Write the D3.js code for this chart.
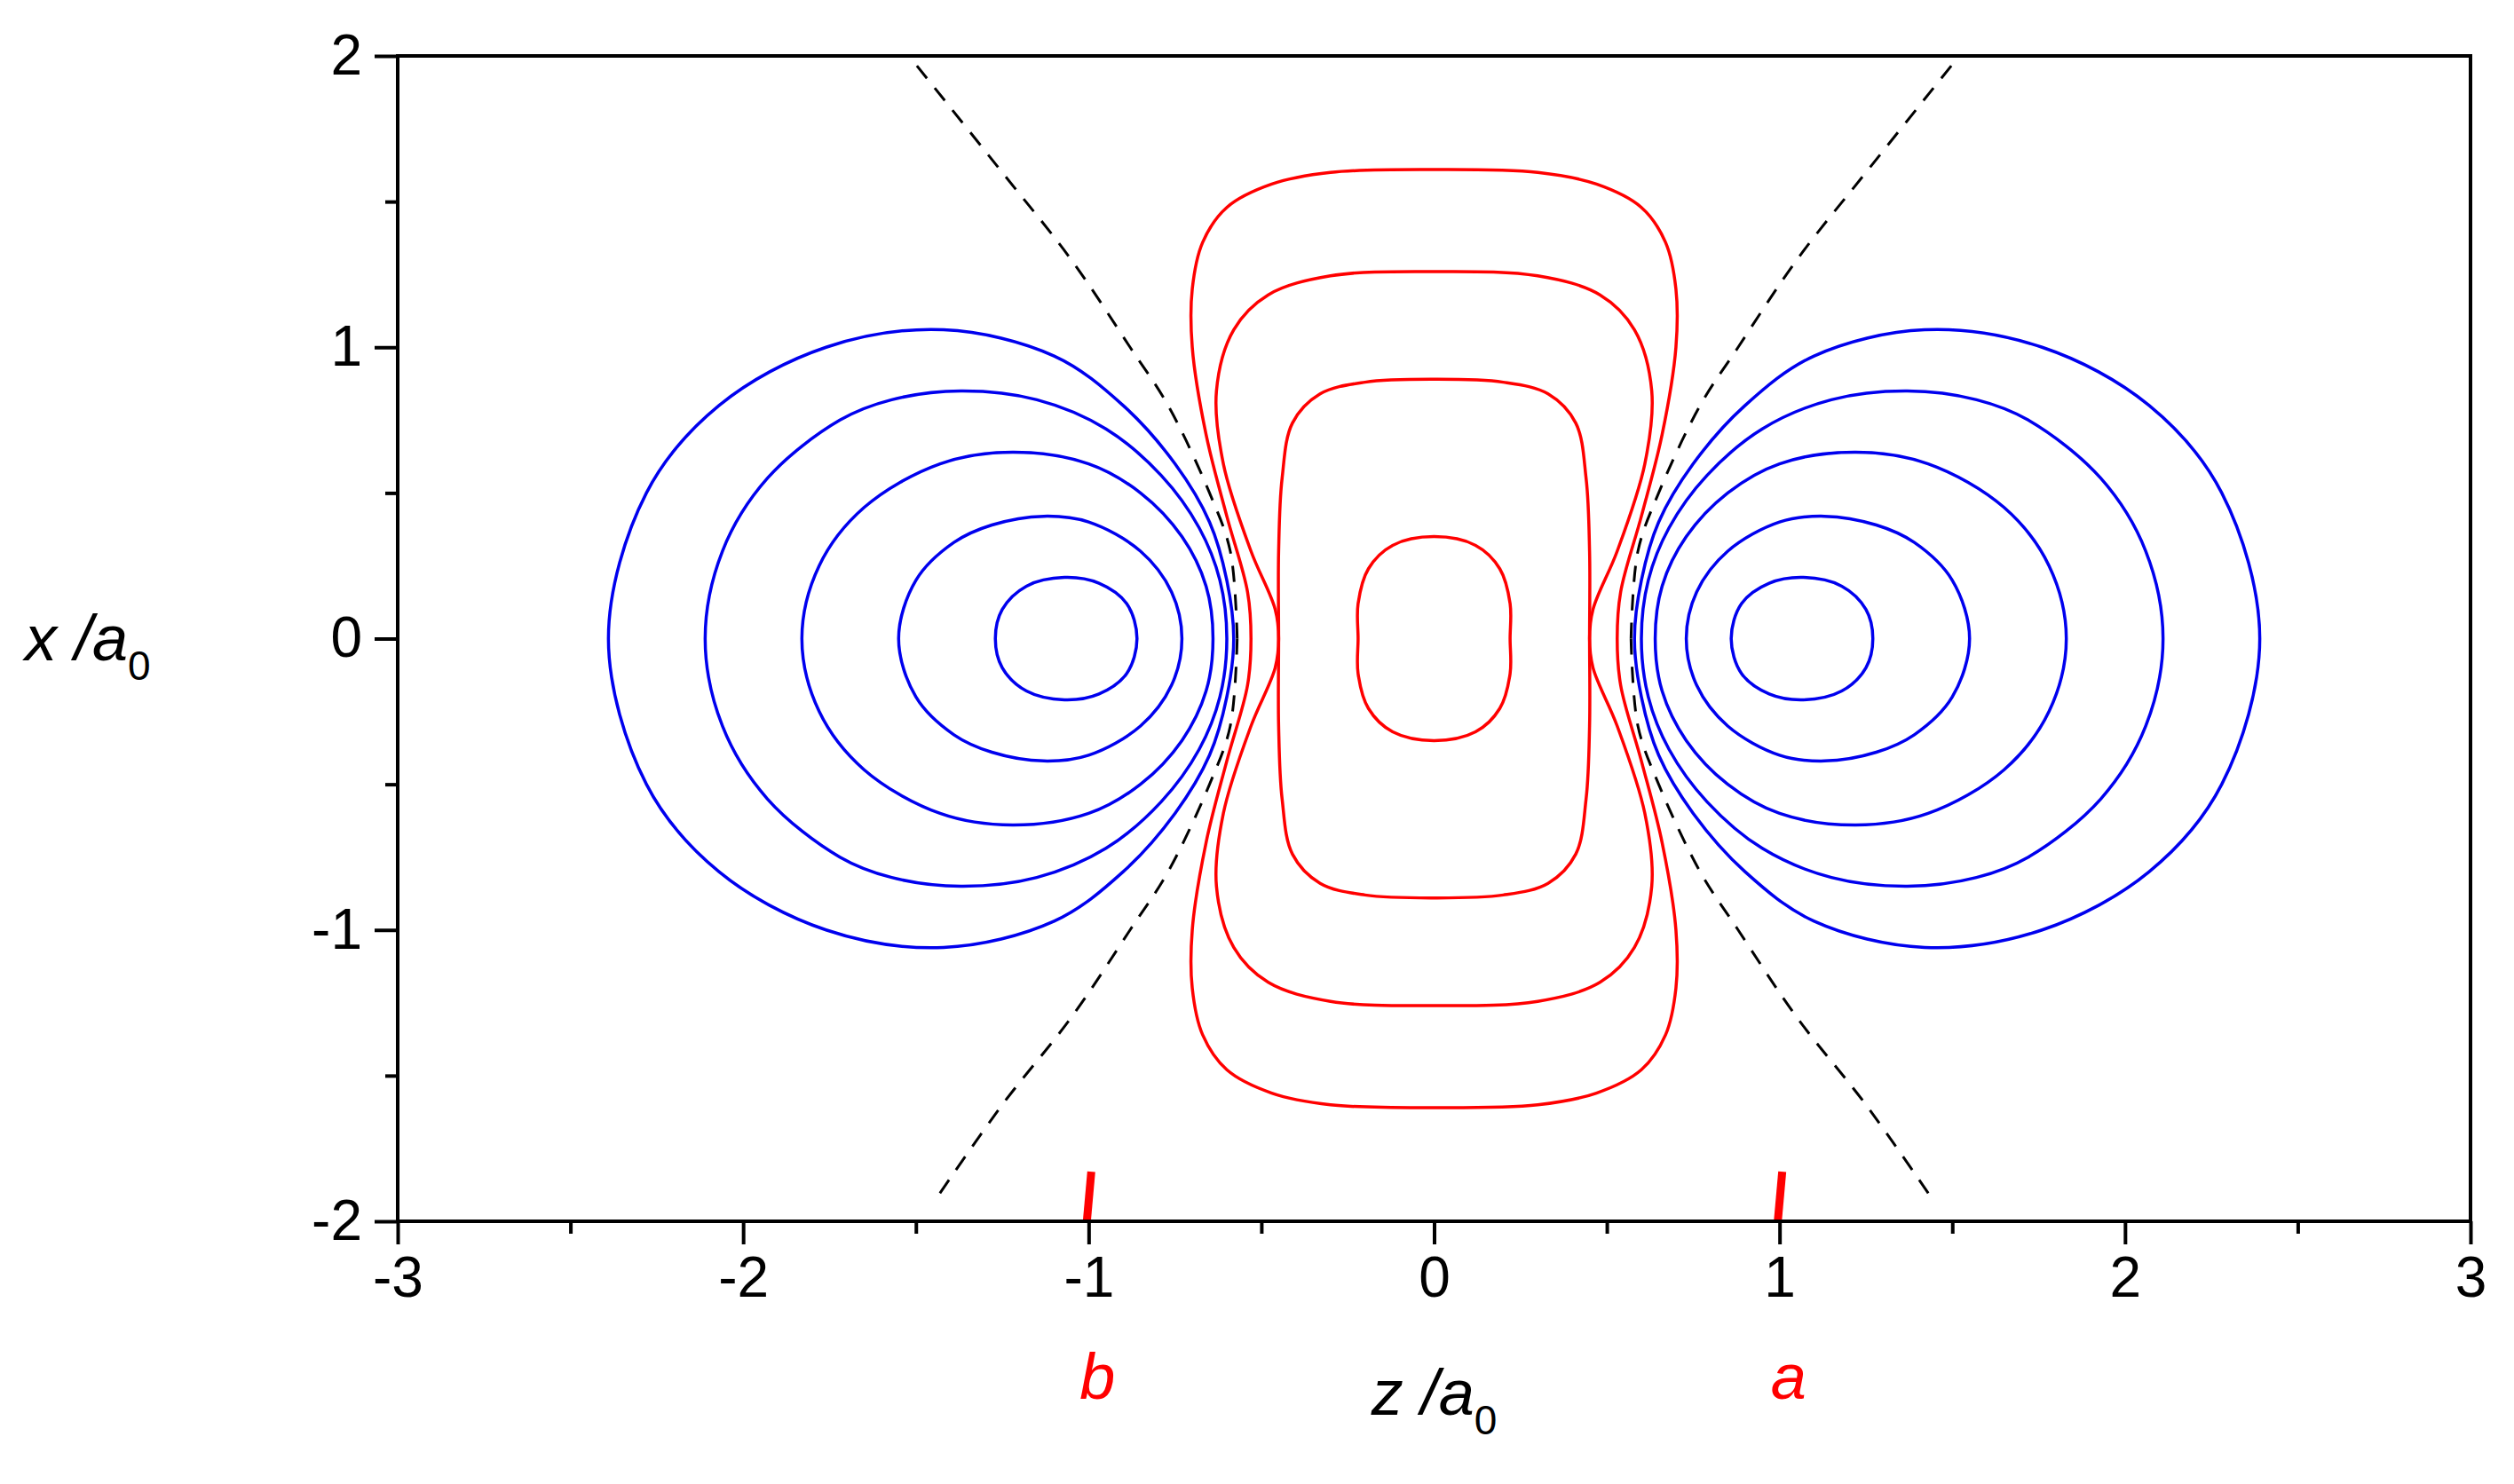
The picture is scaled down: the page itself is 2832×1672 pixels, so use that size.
<!DOCTYPE html>
<html><head><meta charset="utf-8">
<script src="https://cdn.jsdelivr.net/npm/d3@7"></script>
<style>body{margin:0;background:#fff}text{font-family:"Liberation Sans",Arial,sans-serif}</style>
</head><body><svg id="c" width="2832" height="1672"></svg>
<script>
// Quadrant points (z, x); mirrored for symmetry
const redContours = [
 [[0,0.35],[0.12,0.32],[0.19,0.24],[0.22,0.12],[0.22,0]],
 [[0,0.89],[0.2,0.88],[0.33,0.84],[0.41,0.74],[0.44,0.55],[0.45,0.3],[0.45,0]],
 [[0,1.26],[0.3,1.245],[0.48,1.18],[0.58,1.06],[0.63,0.85],[0.61,0.6],[0.53,0.3],[0.46,0.1],[0.45,0]],
 [[0,1.61],[0.3,1.60],[0.47,1.56],[0.6,1.48],[0.67,1.36],[0.70,1.2],[0.70,1.0],[0.66,0.7],[0.60,0.42],[0.54,0.16],[0.53,0]]
];
const blueContours = [
 [[0.86,0],[0.89,0.12],[0.97,0.19],[1.07,0.21],[1.18,0.18],[1.25,0.1],[1.27,0]],
 [[0.73,0],[0.76,0.16],[0.85,0.3],[1.0,0.4],[1.13,0.42],[1.28,0.39],[1.39,0.33],[1.50,0.2],[1.55,0]],
 [[0.64,0],[0.66,0.18],[0.73,0.35],[0.85,0.5],[1.0,0.6],[1.22,0.64],[1.43,0.6],[1.65,0.45],[1.78,0.25],[1.83,0]],
 [[0.60,0],[0.62,0.2],[0.68,0.38],[0.79,0.56],[0.95,0.72],[1.15,0.82],[1.37,0.85],[1.57,0.82],[1.72,0.75],[1.93,0.55],[2.06,0.3],[2.11,0]],
 [[0.58,0],[0.60,0.2],[0.65,0.4],[0.75,0.6],[0.9,0.8],[1.1,0.97],[1.42,1.06],[1.76,1.0],[2.07,0.8],[2.28,0.5],[2.39,0]]
];
const nodeTop = [[0.57,0],[0.59,0.3],[0.65,0.5],[0.77,0.8],[0.88,1.0],[1.05,1.3],[1.25,1.6],[1.52,2.0]];
const nodeBottom = [[0.57,0],[0.59,0.3],[0.65,0.5],[0.77,0.8],[0.88,1.0],[1.05,1.3],[1.25,1.6],[1.44,1.92]];
const xTicks = [-3,-2,-1,0,1,2,3];
const yTicks = [-2,-1,0,1,2];
const nuclei = [{z:-1,label:"b"},{z:1,label:"a"}];

const svg = d3.select("#c");
const L=448,R=2783,T=63,B=1376;
const xs = d3.scaleLinear().domain([-3,3]).range([L,R]);
const ys = d3.scaleLinear().domain([-2,2]).range([B,T]);
const closed = d3.line().x(d=>xs(d[0])).y(d=>ys(d[1])).curve(d3.curveCatmullRomClosed.alpha(0.5));
const open = d3.line().x(d=>xs(d[0])).y(d=>ys(d[1])).curve(d3.curveCatmullRom.alpha(0.5));

function fullRed(q){
  const a=q.slice();
  const b=q.slice().reverse().slice(1).map(d=>[d[0],-d[1]]);
  const c=q.slice(1).map(d=>[-d[0],-d[1]]);
  const e=q.slice().reverse().slice(1,-1).map(d=>[-d[0],d[1]]);
  return a.concat(b,c,e);
}
function fullBlue(h,s){
  const up=h.map(d=>[s*d[0],d[1]]);
  const dn=h.slice().reverse().slice(1,-1).map(d=>[s*d[0],-d[1]]);
  return up.concat(dn);
}
const g=svg.append("g");
redContours.forEach(q=>g.append("path").attr("d",closed(fullRed(q))).attr("fill","none").attr("stroke","#ff0000").attr("stroke-width",3.5));
blueContours.forEach(h=>[1,-1].forEach(s=>g.append("path").attr("d",closed(fullBlue(h,s))).attr("fill","none").attr("stroke","#0000ee").attr("stroke-width",3.5)));
[1,-1].forEach(s=>{
  g.append("path").attr("d",open(nodeTop.map(d=>[s*d[0],d[1]]))).attr("fill","none").attr("stroke","#000").attr("stroke-width",3).attr("stroke-dasharray","18,14");
  g.append("path").attr("d",open(nodeBottom.map(d=>[-s*d[0],-d[1]]))).attr("fill","none").attr("stroke","#000").attr("stroke-width",3).attr("stroke-dasharray","18,14");
});
nuclei.forEach(n=>{
  g.append("line").attr("x1",xs(n.z)-2).attr("y1",ys(-2)).attr("x2",xs(n.z)+3).attr("y2",ys(-1.83)).attr("stroke","#ff0000").attr("stroke-width",9);
  svg.append("text").attr("x",xs(n.z)+10).attr("y",B+200).attr("text-anchor","middle").attr("font-size",72).attr("font-style","italic").attr("fill","#ff0000").text(n.label);
});
svg.append("rect").attr("x",L).attr("y",T).attr("width",R-L).attr("height",B-T).attr("fill","none").attr("stroke","#000").attr("stroke-width",4);
const fmt=d=>String(d);
svg.append("g").attr("transform",`translate(0,${B})`).call(d3.axisBottom(xs).tickValues(xTicks).tickSize(26).tickPadding(14).tickFormat(fmt));
svg.append("g").attr("transform",`translate(0,${B})`).call(d3.axisBottom(xs).tickValues(d3.range(-2.5,3,1)).tickSize(14).tickFormat(""));
svg.append("g").attr("transform",`translate(${L},0)`).call(d3.axisLeft(ys).tickValues(yTicks).tickSize(26).tickPadding(14).tickFormat(fmt));
svg.append("g").attr("transform",`translate(${L},0)`).call(d3.axisLeft(ys).tickValues([-1.5,-0.5,0.5,1.5]).tickSize(14).tickFormat(""));
svg.selectAll(".domain").remove();
svg.selectAll(".tick line").attr("stroke","#000").attr("stroke-width",4);
svg.selectAll(".tick text").attr("font-size",64).attr("fill","#000");
const xl=svg.append("text").attr("x",xs(0)).attr("y",B+218).attr("text-anchor","middle").attr("font-size",72).attr("font-style","italic");
xl.append("tspan").text("z /a");
xl.append("tspan").attr("font-size",46).attr("font-style","normal").attr("dy",22).text("0");
const yl=svg.append("text").attr("x",28).attr("y",ys(0)+24).attr("font-size",72).attr("font-style","italic");
yl.append("tspan").text("x /a");
yl.append("tspan").attr("font-size",46).attr("font-style","normal").attr("dy",22).text("0");
</script></body></html>
